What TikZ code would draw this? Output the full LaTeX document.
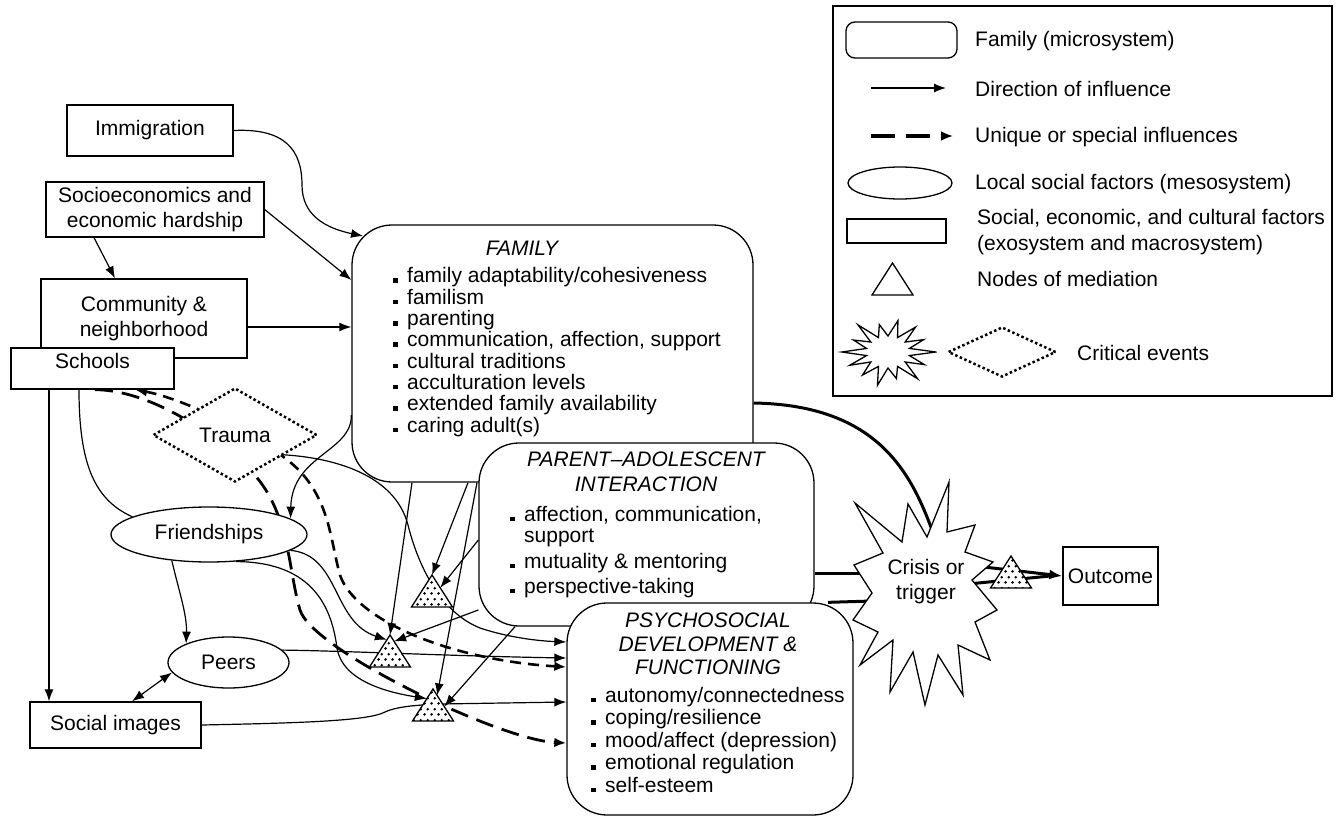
\documentclass[tikz,border=0pt]{standalone}
\usepackage{fontspec}
\setmainfont{Liberation Sans}
\usetikzlibrary{arrows.meta,shapes.geometric,patterns,calc}
\pgfdeclarelayer{bg}
\pgfsetlayers{bg,main}
\pgfdeclarepatternformonly{meddots}{\pgfpointorigin}{\pgfpoint{6.6pt}{11pt}}{\pgfpoint{6.6pt}{11pt}}{%
  \pgfpathcircle{\pgfpoint{1.65pt}{2.75pt}}{1.5pt}%
  \pgfpathcircle{\pgfpoint{4.95pt}{8.25pt}}{1.5pt}%
  \pgfusepath{fill}%
}
\newcommand{\bul}{\rule{4.5pt}{4.5pt}\hspace{9.5pt}}
\newcommand{\medtri}[4]{%
  \coordinate (#1-a) at (#2,#3);
  \coordinate (#1-l) at ({#2-20.5},{#3+32});
  \coordinate (#1-r) at ({#2+20.5},{#3+32});
  \coordinate (#1) at ({#2},{#3+21});
  \path[#4] (#1-a) -- (#1-r) -- (#1-l) -- cycle;
}
\tikzset{
  every node/.style={font=\fontsize{21}{21.3}\selectfont},
  sqbox/.style={draw, line width=1.3pt, fill=white, inner sep=0pt},
  rdbox/.style={sqbox, rounded corners=40pt},
  ovl/.style={sqbox, ellipse},
  dmd/.style={diamond, draw, fill=white, inner sep=0pt, line width=2.5pt, dash pattern=on 2.5pt off 2.5pt},
  arw/.style={line width=1.2pt, -{Latex[length=12pt,width=9pt]}},
  dshA/.style={line width=2.8pt, dash pattern=on 18pt off 9pt, -{Latex[length=12pt,width=9.5pt]}},
  dshB/.style={line width=2.6pt, dash pattern=on 11pt off 7pt, -{Latex[length=12pt,width=9.5pt]}},
  dshL/.style={line width=3.5pt, dash pattern=on 24pt off 11pt, -{Latex[length=12pt,width=10pt]}},
  thk/.style={line width=3pt},
  medt/.style={draw, line width=1.3pt, line join=miter, preaction={fill=white}, pattern=meddots, pattern color=black},
  lgtri/.style={draw, line width=1.3pt, fill=white},
  brst/.style={draw, line width=1.3pt, fill=white, line join=miter},
  ttl/.style={font=\fontsize{21}{25}\selectfont\itshape, align=center, inner sep=0pt},
  lst/.style={align=left, inner sep=0pt, anchor=base west},
  lgt/.style={anchor=west, inner sep=0pt},
}
\begin{document}
\begin{tikzpicture}[x=1pt,y=-1pt]
\useasboundingbox (0,0) rectangle (1336,816);

% ---------------- legend ----------------
\node[sqbox, fill=none, minimum width=499pt, minimum height=390pt] (leg) at (1082.5,201) {};
\node[sqbox, rounded corners=9pt, minimum width=111pt, minimum height=36pt] (lg1) at (901.5,40) {};
\node[lgt] (lt1) at (975,41) {Family (microsystem)};
\coordinate (la1s) at (871,88); \coordinate (la1e) at (946,88);
\draw[arw] (la1s) -- (la1e);
\node[lgt] (lt2) at (975,89) {Direction of influence};
\coordinate (la2s) at (871,136); \coordinate (la2e) at (953,136);
\draw[dshL] (la2s) -- (la2e);
\node[lgt] (lt3) at (975,137) {Unique or special influences};
\node[ovl, minimum width=104pt, minimum height=32pt] (lg4) at (900,183) {};
\node[lgt] (lt4) at (975,184) {Local social factors (mesosystem)};
\node[sqbox, minimum width=99pt, minimum height=24pt] (lg5) at (896.5,231) {};
\node[lgt, align=left, font=\fontsize{21}{26.7}\selectfont] (lt5) at (977,232) {Social, economic, and cultural factors\\(exosystem and macrosystem)};
\medtri{lg6}{892.5}{263}{lgtri}
\node[lgt] (lt6) at (977,279) {Nodes of mediation};
\draw[brst] ({888+43*(1+0.12*sin(2954))},352) \foreach \k in {0,...,13}{ -- ({888+22*cos(\k*25.714+12.857)},{352+16*sin(\k*25.714+12.857)}) -- ({888+43*(1+0.12*sin((\k+1)*211))*cos((\k+1)*25.714)},{352+31*(1+0.12*sin((\k+1)*211))*sin((\k+1)*25.714)}) } -- cycle;
\node[dmd, minimum width=108pt, minimum height=50pt] (lg7) at (1002,352) {};
\node[lgt] (lt7) at (1077,353) {Critical events};

% ---------------- main boxes ----------------
\node[rdbox, minimum width=401pt, minimum height=257pt] (fam) at (552.5,353.5) {};
\node[ttl, anchor=base] (famt) at (522,255.5) {FAMILY};
\node[lst] (faml) at (393,432) {\bul family adaptability/cohesiveness\\\bul familism\\\bul parenting\\\bul communication, affection, support\\\bul cultural traditions\\\bul acculturation levels\\\bul extended family availability\\\bul caring adult(s)};

\node[rdbox, minimum width=335pt, minimum height=183pt] (pa) at (646.5,534.5) {};
\node[ttl, anchor=base] (pat) at (646,491.5) {PARENT–ADOLESCENT\\INTERACTION};
\node[lst, font=\fontsize{21}{21}\selectfont] (pal) at (510,593) {\bul affection, communication,\\\hspace*{14pt}support\\[5pt]\bul mutuality \& mentoring\\[4pt]\bul perspective-taking};

\node[rdbox, minimum width=286pt, minimum height=212pt] (psy) at (710,709) {};
\node[ttl, font=\fontsize{21}{23.5}\selectfont\itshape, anchor=base] (pst) at (708,674.5) {PSYCHOSOCIAL\\DEVELOPMENT \&\\FUNCTIONING};
\node[lst, font=\fontsize{21}{22.5}\selectfont] (psl) at (591,792) {\bul autonomy/connectedness\\\bul coping/resilience\\\bul mood/affect (depression)\\\bul emotional regulation\\\bul self-esteem};

\node[sqbox, minimum width=166pt, minimum height=51pt] (imm) at (150,130.5) {Immigration};
\node[sqbox, minimum width=218pt, minimum height=55pt, align=center, font=\fontsize{21}{24.5}\selectfont] (soc) at (155,209.5) {Socioeconomics and\\economic hardship};
\node[sqbox, minimum width=206pt, minimum height=79pt, align=center, font=\fontsize{21}{24.5}\selectfont] (com) at (144,318.5) {Community \&\\neighborhood};
\node[sqbox, minimum width=163pt, minimum height=41pt, text height=15pt, text depth=16pt] (sch) at (92.5,368.5) {Schools};
\node[sqbox, minimum width=171pt, minimum height=46pt] (si) at (115.5,725) {Social images};
\node[sqbox, minimum width=95pt, minimum height=58pt] (out) at (1110.5,576) {Outcome};

\node[ovl, minimum width=196pt, minimum height=55pt] (fr) at (209,534.5) {Friendships};
\node[ovl, minimum width=121pt, minimum height=51pt] (pe) at (228.5,662.5) {Peers};
\node[dmd, minimum width=164pt, minimum height=94pt] (tr) at (235,435) {Trauma};

% crisis starburst
\draw[brst] (949,482) -- (947,532) -- (975,525) -- (965,552) -- (993,562) -- (972,580) -- (997,610) -- (975,622) -- (990,660) -- (958,645) -- (963,695) -- (938,655) -- (925,705) -- (913,652) -- (890,692) -- (893,640) -- (860,665) -- (878,632) -- (853,620) -- (872,593) -- (854,565) -- (883,553) -- (855,503) -- (902,542) -- (908,504) -- (927,537) -- cycle;
\node[align=center, inner sep=0pt, font=\fontsize{21}{25}\selectfont] (crisis) at (926,582) {Crisis or\\trigger};
\coordinate (cxt) at (932,530);
\coordinate (cxl1) at (864,573);
\coordinate (cxl2) at (872,601);
\coordinate (cxr1) at (975,566);
\coordinate (cxr2) at (968,584);

% mediation nodes
\medtri{t1}{432}{575}{medt}
\medtri{t2}{390}{635}{medt}
\medtri{t3}{433}{689}{medt}
\medtri{to}{1011}{556}{medt}

% ---------------- connectors ----------------
\begin{pgfonlayer}{bg}
\draw[arw] (imm.east) .. controls (285,128) and (302,150) .. (302,185) .. controls (302,215) and (325,228) .. ($(fam.north west)+(11.7,11.7)$);
\draw[arw] (soc.east) -- (fam.west |- 0,280);
\draw[arw] (94,0 |- soc.south) -- (115,0 |- com.north);
\draw[arw] (com.east |- 0,327) -- (fam.west |- 0,327);
\draw[arw] (49,0 |- sch.south) -- (49,0 |- si.north);
\draw[line width=1.2pt] (79,0 |- sch.south) .. controls (79,465) and (95,500) .. (fr.167);
\draw[arw] (fam.west |- 0,415) .. controls (352,452) and (292,455) .. (fr.11);
\draw[arw] (fr.215) .. controls (180,595) and (187,615) .. (pe.156);
\draw[arw] (fr.-11) .. controls (340,555) and (332,622) .. ($(t2-a)!0.15!(t2-l)$);
\draw[arw] (fr.-45) .. controls (315,562) and (332,610) .. (337,648) .. controls (342,680) and (385,692) .. ($(t3-a)!0.3!(t3-l)$);
\draw[arw] (pe.13) .. controls (350,651) and (450,656) .. (psy.west |- 0,658);
\draw[line width=1.2pt, {Latex[length=12pt,width=9pt]}-{Latex[length=12pt,width=9pt]}] (132,0 |- si.north) -- (pe.190);
\draw[arw] (si.east) .. controls (300,723) and (368,721) .. (385,712) .. controls (398,706) and (420,705) .. (440,704) -- (psy.west |- 0,702);
\draw[arw] (412,0 |- fam.south) -- (t2-a);
\draw[arw] (468,0 |- fam.south) -- (t1-a);
\draw[arw] (477,0 |- fam.south) -- ($(t3-a)!0.2!(t3-r)$);
\draw[arw] (pa.west |- 0,540) -- ($(t1-a)!0.4!(t1-r)$);
\draw[arw] (pa.west |- 0,610) -- ($(t2-a)!0.2!(t2-r)$);
\draw[arw] (515,0 |- pa.south) -- ($(t3-a)!0.55!(t3-r)$);
\draw[arw] (tr.-22) .. controls (335,458) and (395,475) .. (408,525) .. controls (418,565) and (440,612) .. (480,628) .. controls (510,638) and (540,641) .. (psy.west |- 0,642);
\draw[dshB, {Latex[length=12pt,width=9.5pt]}-{Latex[length=12pt,width=9.5pt]}] (135,0 |- sch.south) .. controls (180,398) and (250,430) .. (290,462) .. controls (330,495) and (330,540) .. (340,575) .. controls (355,620) and (450,660) .. (psy.west |- 0,667);
\draw[dshA] (95,0 |- sch.south) .. controls (140,390) and (200,420) .. (250,470) .. controls (290,510) and (288,570) .. (300,610) .. controls (312,650) and (500,740) .. (psy.west |- 0,743);
\draw[thk] (fam.east |- 0,403) .. controls (875,405) and (910,470) .. (cxt);
\draw[thk] (pa.east |- 0,573) -- (cxl1);
\draw[thk] (828,0 |- psy.north) -- (cxl2);
\draw[thk] (cxr2) -- ($(out.west)+(-12,0)$);
\draw[thk, -{Latex[length=13pt,width=10pt]}] (cxr1) -- (out.west);
\end{pgfonlayer}
\end{tikzpicture}
\end{document}
